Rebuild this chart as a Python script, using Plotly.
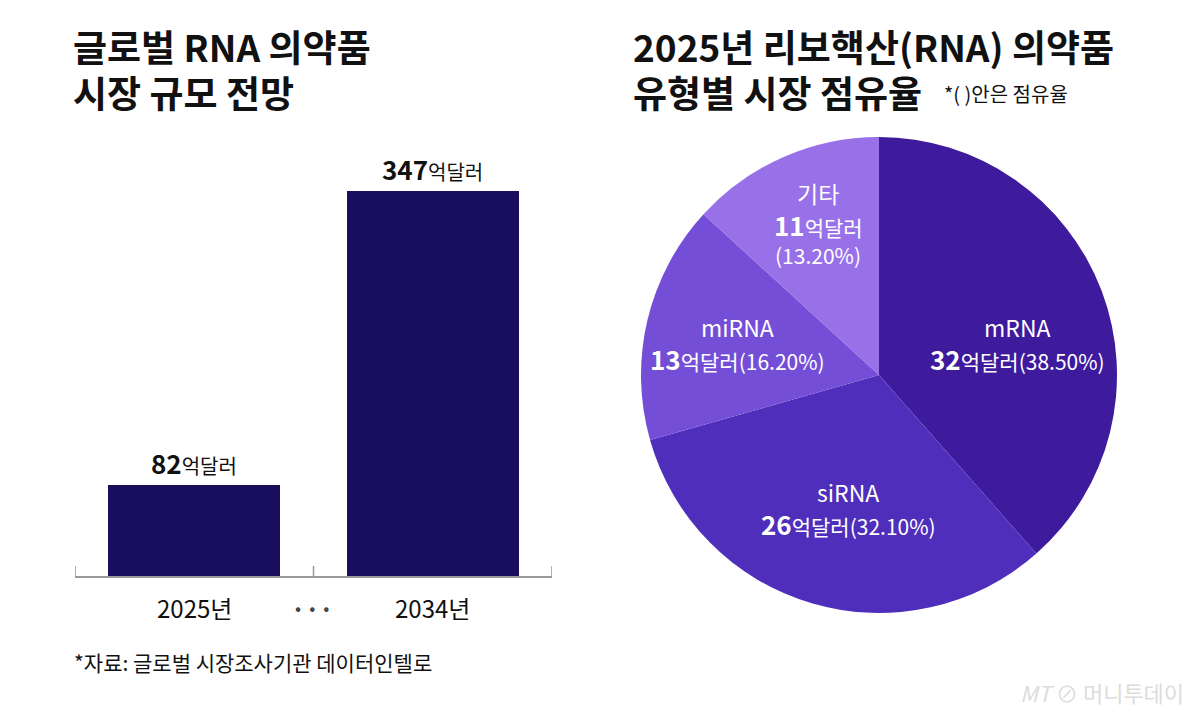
import plotly.graph_objects as go

# ---- data ----
years = ["2025년", "2034년"]
market_size = [82, 347]            # 억달러
pie_labels = ["mRNA", "siRNA", "miRNA", "기타"]
pie_values = [32, 26, 13, 11]      # 억달러
pie_shares = [38.5, 32.1, 16.2, 13.2]  # %
axis_ticks = [-0.5, 0.5, 1.5]

FONT = "Noto Sans CJK KR"
W, H = 1200, 720

def px(x):
    return x / W

def py(y):
    return 1 - y / H

bar_color = "#190E5E"
pie_colors = ["#3E1A9C", "#4F2EBB", "#744ED6", "#9870E8"]

fig = go.Figure()

# bar chart
bar_x = [0, 1]
fig.add_trace(go.Bar(
    x=bar_x, y=market_size, width=0.72,
    marker=dict(color=bar_color, line=dict(width=0)),
    xaxis="x", yaxis="y", showlegend=False, hoverinfo="skip",
))

# pie chart
fig.add_trace(go.Pie(
    labels=pie_labels, values=pie_shares, sort=False, direction="clockwise",
    rotation=0, textinfo="none", hoverinfo="skip",
    marker=dict(colors=pie_colors, line=dict(width=0)),
    domain=dict(x=[px(641), px(1117)], y=[py(613), py(137)]),
    showlegend=False,
))

annotations = []

def add_text(x, y, text, size, color="#111", xanchor="left", yanchor="middle", family=FONT, align="center"):
    annotations.append(dict(
        x=x, y=y, xref="paper", yref="paper", text=text, showarrow=False,
        xanchor=xanchor, yanchor=yanchor,
        font=dict(family=family, size=size, color=color), align=align,
    ))

# titles
add_text(px(71), py(46), "<b>글로벌 RNA 의약품</b>", 37)
add_text(px(71), py(92), "<b>시장 규모 전망</b>", 37)
add_text(px(631), py(46), "<b>2025년 리보핵산(RNA) 의약품</b>", 37)
add_text(px(631), py(92), "<b>유형별 시장 점유율</b>", 37)
add_text(px(942), py(94), "*( )안은 점유율", 20)

# bar value labels
for xv, v in zip(bar_x, market_size):
    annotations.append(dict(
        x=xv, y=v, xref="x", yref="y", showarrow=False, yanchor="bottom",
        yshift=2, text=f"<b><span style='font-size:26px'>{v}</span></b>억달러",
        font=dict(family=FONT, size=20, color="#111"),
    ))

# year labels
for xv, lab in zip(bar_x, years):
    annotations.append(dict(
        x=xv, y=py(607), xref="x", yref="paper", showarrow=False,
        yanchor="middle", text=lab, font=dict(family=FONT, size=24, color="#111"),
    ))
add_text(px(313), py(607), "•  •  •", 18, color="#444", xanchor="center")

# footnote
add_text(px(72), py(662), "*자료: 글로벌 시장조사기관 데이터인텔로", 21)

# watermark
add_text(px(1186), py(692), "<i>MT</i> ⊘ 머니투데이", 22, color="#dcdcdc", xanchor="right")

# pie labels
def pie_label(x, y, lines):
    for i, (t, s) in enumerate(lines):
        add_text(px(x), py(y + i * 31), t, s, color="white", xanchor="center")

pie_label(818, 193, [("기타", 23), (f"<b><span style='font-size:26px'>{pie_values[3]}</span></b>억달러", 21), (f"({pie_shares[3]:.2f}%)", 21)])
pie_label(737, 327, [("miRNA", 23), (f"<b><span style='font-size:26px'>{pie_values[2]}</span></b>억달러({pie_shares[2]:.2f}%)", 21)])
pie_label(1017, 327, [("mRNA", 23), (f"<b><span style='font-size:26px'>{pie_values[0]}</span></b>억달러({pie_shares[0]:.2f}%)", 21)])
pie_label(848, 492, [("siRNA", 23), (f"<b><span style='font-size:26px'>{pie_values[1]}</span></b>억달러({pie_shares[1]:.2f}%)", 21)])

# axis tick marks (rising from baseline)
shapes = []
for t in axis_ticks:
    shapes.append(dict(type="line", xref="x", yref="y", x0=t, x1=t, y0=0, y1=9,
                       line=dict(color="#999", width=1.5)))

fig.update_layout(
    width=W, height=H, margin=dict(l=0, r=0, t=0, b=0),
    paper_bgcolor="white", plot_bgcolor="white",
    font=dict(family=FONT),
    bargap=0,
    xaxis=dict(domain=[px(75), px(552)], range=[-0.5, 1.5], showgrid=False, zeroline=False,
               showline=True, linecolor="#999", linewidth=1.5,
               showticklabels=False, ticks="", fixedrange=True),
    yaxis=dict(domain=[py(576), py(191)], range=[0, 347], showgrid=False, zeroline=False,
               showline=False, showticklabels=False, fixedrange=True),
    annotations=annotations,
    shapes=shapes,
)

fig.write_html("out.html")
